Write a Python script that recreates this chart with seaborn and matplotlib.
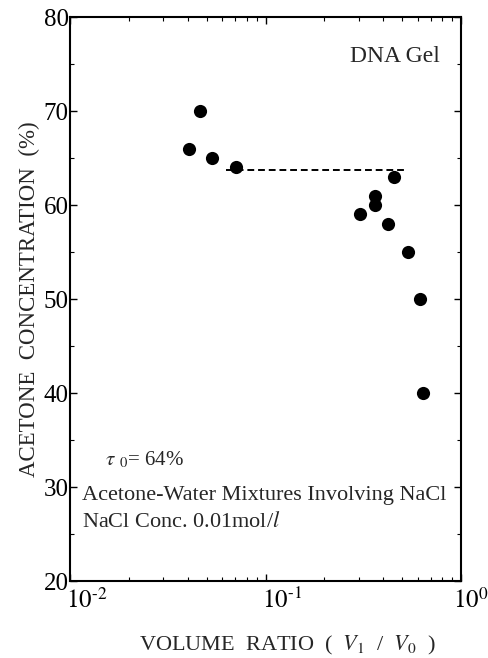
import numpy as np
import pandas as pd
import seaborn as sns
import matplotlib
matplotlib.use('Agg')
import matplotlib.pyplot as plt
import matplotlib.transforms as mtransforms
from matplotlib.ticker import LogLocator, MultipleLocator, FixedLocator

# data
volume_ratio = [0.0405, 0.0465, 0.0535, 0.0706, 0.303, 0.365, 0.365, 0.454, 0.424, 0.536, 0.615, 0.637]
acetone_conc = [66, 70, 65, 64, 59, 61, 60, 63, 58, 55, 50, 40]
tau0_line_x = [0.0625, 0.524]
tau0_line_y = [63.7, 63.7]
y_ticks = [20, 30, 40, 50, 60, 70, 80]
x_ticks = [0.01, 0.1, 1.0]
x_tick_labels = ['$10^{\\text{-}2}$', '$10^{\\text{-}1}$', '$10^{0}$']

sns.set_style('ticks')
plt.rcParams['font.family'] = ['Liberation Serif', 'DejaVu Serif']
plt.rcParams['mathtext.fontset'] = 'stix'

df = pd.DataFrame({'ratio': volume_ratio, 'conc': acetone_conc})

fig = plt.figure(figsize=(4.89, 6.58), dpi=100)
ax = fig.add_axes([70 / 489, 1 - 581 / 658, (461 - 70) / 489, (581 - 17) / 658])

sns.scatterplot(data=df, x='ratio', y='conc', ax=ax, color='black', s=90,
                edgecolor='black', linewidth=0, zorder=3)
sns.lineplot(x=tau0_line_x, y=tau0_line_y, ax=ax, color='black', linestyle=(0, (3.5, 2)),
             linewidth=1.4)

ax.set_xscale('log')
ax.set_xlim(0.01, 1.0)
ax.set_ylim(20, 80)
ax.xaxis.set_major_locator(FixedLocator(x_ticks))
ax.set_xticklabels(x_tick_labels)
ax.xaxis.set_minor_locator(LogLocator(base=10, subs=np.arange(2, 10)))
ax.yaxis.set_major_locator(FixedLocator(y_ticks))
ax.yaxis.set_minor_locator(MultipleLocator(5))

ax.tick_params(which='both', direction='in', top=True, right=True, colors='black')
ax.tick_params(which='major', length=5, width=1.0, labelsize=18)
ax.tick_params(axis='x', which='major', pad=5)
ax.tick_params(axis='y', which='major', pad=1)
ax.tick_params(which='minor', length=3, width=0.8)
# x tick labels start at the tick, like the original; last one pulled in to stay on the page
shifts = [-4, -4, -8]
for lab, dx in zip(ax.get_xticklabels(), shifts):
    lab.set_horizontalalignment('left')
    lab.set_transform(lab.get_transform() + mtransforms.ScaledTranslation(dx / 100, 0, fig.dpi_scale_trans))
for sp in ax.spines.values():
    sp.set_linewidth(1.5)
    sp.set_color('black')

ax.set_xlabel('VOLUME  RATIO  (  $V_1$  /  $V_0$  )', fontsize=16)
ax.xaxis.set_label_coords(0.557, -0.094)
ax.set_ylabel('ACETONE  CONCENTRATION  (%)', fontsize=16.5)
ax.yaxis.set_label_coords(-0.077, 0.5)

ax.text(0.945, 0.93, 'DNA Gel', transform=ax.transAxes, ha='right', va='center', fontsize=17)
ax.text(0.09, 0.215, r'$\tau$ $_0$= 64%', transform=ax.transAxes, ha='left', va='center', fontsize=15)
ax.text(0.03, 0.152, 'Acetone-Water Mixtures Involving NaCl', transform=ax.transAxes,
        ha='left', va='center', fontsize=16)
ax.text(0.03, 0.104, 'NaCl Conc. 0.01mol/$\\it{l}$', transform=ax.transAxes,
        ha='left', va='center', fontsize=16)

fig.savefig('out.png', dpi=100)
